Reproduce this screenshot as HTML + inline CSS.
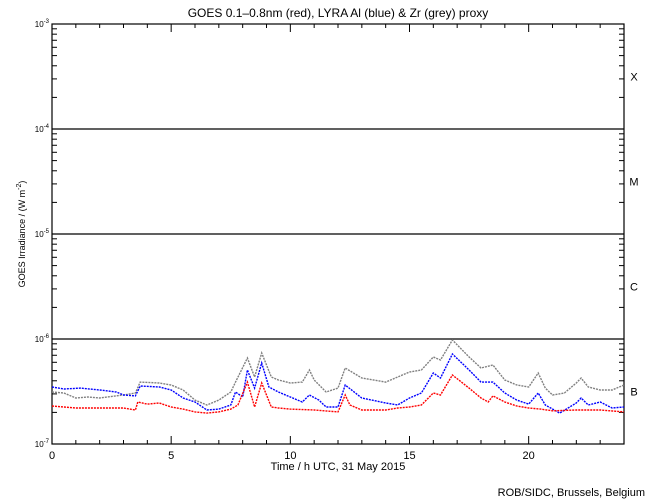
<!DOCTYPE html>
<html><head><meta charset="utf-8"><style>
body{margin:0;background:#fff;}
svg{display:block;font-family:"Liberation Sans",sans-serif;}
</style></head><body>
<svg id="chart" width="650" height="500">
<text x="338" y="17" text-anchor="middle" font-size="12">GOES 0.1–0.8nm (red), LYRA Al (blue) &amp; Zr (grey) proxy</text>
<text x="338" y="470" text-anchor="middle" font-size="11">Time / h UTC, 31 May 2015</text>
<text x="645" y="496" text-anchor="end" font-size="11">ROB/SIDC, Brussels, Belgium</text>
<text transform="translate(25,234) rotate(-90)" text-anchor="middle" font-size="9">GOES Irradiance / (W m<tspan dy="-4" font-size="7">-2</tspan><tspan dy="4">)</tspan></text>
<g id="axes"></g>
<g id="series"></g>
</svg>
<script>
const xTicks = [0,5,10,15,20];
const decades = [-7,-6,-5,-4,-3];
const classLabels = ["B","C","M","X"];
const redT = [0,1,2,3,3.5,3.6,4,4.5,5,5.5,6,6.5,7,7.5,7.8,8.2,8.5,8.8,9.2,9.5,10,11,12,12.3,12.5,13,14,14.5,15,15.5,16,16.3,16.8,17.5,18,18.3,18.5,19,19.5,20,20.5,21,22,23,24];
const redE7 = [2.30,2.20,2.20,2.20,2.11,2.51,2.40,2.46,2.25,2.15,2.02,1.97,2.02,2.15,2.35,3.89,2.25,3.81,2.25,2.20,2.15,2.11,2.02,2.93,2.35,2.11,2.11,2.20,2.25,2.35,3.06,2.93,4.54,3.41,2.74,2.51,2.87,2.51,2.30,2.20,2.15,2.07,2.11,2.11,2.02];
const blueT = [0,0.5,1.2,2,2.7,3,3.5,3.7,4.5,5,5.5,6,6.5,7,7.5,7.7,8,8.2,8.5,8.8,9.1,9.5,10,10.5,10.8,11.2,11.5,12,12.3,13,14,14.5,15,15.5,16,16.3,16.8,17.5,18,18.5,19,19.5,20,20.4,20.7,21.3,22,22.2,22.5,23,23.5,24];
const blueE7 = [3.49,3.34,3.41,3.27,3.13,2.93,2.87,3.57,3.49,3.27,2.74,2.51,2.11,2.15,2.35,3.13,2.80,5.07,3.41,5.91,3.49,3.13,2.80,2.51,2.93,2.62,2.25,2.25,3.65,2.74,2.46,2.35,2.74,3.06,4.74,4.25,7.20,5.07,3.89,3.89,3.06,2.62,2.40,3.06,2.35,1.97,2.46,2.74,2.35,2.51,2.20,2.25];
const greyT = [0,0.5,1,1.5,2,3,3.5,3.7,4.5,5,5.5,6,6.5,7,7.5,7.7,8.2,8.5,8.8,9.2,9.5,10,10.5,10.8,11,11.5,12,12.3,13,14,15,15.5,16,16.3,16.8,17.5,18,18.5,19,19.5,20,20.4,20.7,21,21.5,22,22.2,22.5,23,23.5,24];
const greyE7 = [3.13,3.06,2.74,2.80,2.74,2.93,3.06,3.89,3.81,3.65,3.27,2.62,2.35,2.62,3.13,3.89,6.59,4.35,7.36,4.35,4.07,3.81,3.89,5.07,4.07,3.13,3.41,5.29,4.25,3.89,4.85,5.07,6.74,6.31,9.78,6.74,5.29,5.65,4.07,3.65,3.49,4.74,3.41,2.93,3.06,3.81,4.25,3.49,3.27,3.27,3.65];

const NS="http://www.w3.org/2000/svg";
const L=52,R=624,T=24,B=444;
const xs=h=>L+(R-L)*h/24;
const ys=v=>B-(B-T)*(Math.log10(v)+7)/4;
function mk(tag,attrs,parent){const e=document.createElementNS(NS,tag);for(const k in attrs)e.setAttribute(k,attrs[k]);parent.appendChild(e);return e;}
const ax=document.getElementById('axes');
const frame=mk('rect',{x:L,y:T,width:R-L,height:B-T,fill:'none',stroke:'#000','stroke-width':1.2},ax);


for(let h=0;h<=24;h++){
  const len=h%5===0?8:4;const x=xs(h);
  const t1=mk('line',{x1:x,x2:x,y1:B,y2:B-len,stroke:'#000'},ax);
  
  
  const t2=mk('line',{x1:x,x2:x,y1:T,y2:T+len,stroke:'#000'},ax);
  
  
}
xTicks.forEach(h=>{
  const t=mk('text',{x:xs(h),y:459,'text-anchor':'middle','font-size':11},ax);t.textContent=h;
  
  
});
decades.forEach((d,i)=>{
  const y=ys(Math.pow(10,d));
  if(d>-7&&d<-3){
    const g=mk('line',{x1:L,x2:R,y1:y,y2:y,stroke:'#000','stroke-width':1.2},ax);
    
    
  }
  const t=mk('text',{x:L-3,y:y+3,'text-anchor':'end','font-size':8},ax);
  t.innerHTML='10<tspan dy="-4" font-size="6">'+d+'</tspan>';
  
  
  if(i<4){
    for(let m=2;m<=9;m++){
      const yy=ys(m*Math.pow(10,d));
      const a=mk('line',{x1:L,x2:L+5,y1:yy,y2:yy,stroke:'#000'},ax);
      
      
      const b=mk('line',{x1:R,x2:R-5,y1:yy,y2:yy,stroke:'#000'},ax);
      
      
    }
    const c=mk('text',{x:634,y:ys(Math.pow(10,d+0.5))+4,'text-anchor':'middle','font-size':11},ax);
    c.textContent=classLabels[i];
    
    
  }
});
const sg=document.getElementById('series');
function series(ts,vs,color,name){
  const p=mk('polyline',{points:ts.map((t,i)=>xs(t).toFixed(1)+','+ys(vs[i]*1e-7).toFixed(1)).join(' '),fill:'none',stroke:color,'stroke-width':1.4,'stroke-dasharray':'2 1'},sg);
  
  
}
series(greyT,greyE7,'#808080','zr-proxy-series');
series(blueT,blueE7,'#0000ff','lyra-al-series');
series(redT,redE7,'#ff0000','goes-series');
</script>
</body></html>
